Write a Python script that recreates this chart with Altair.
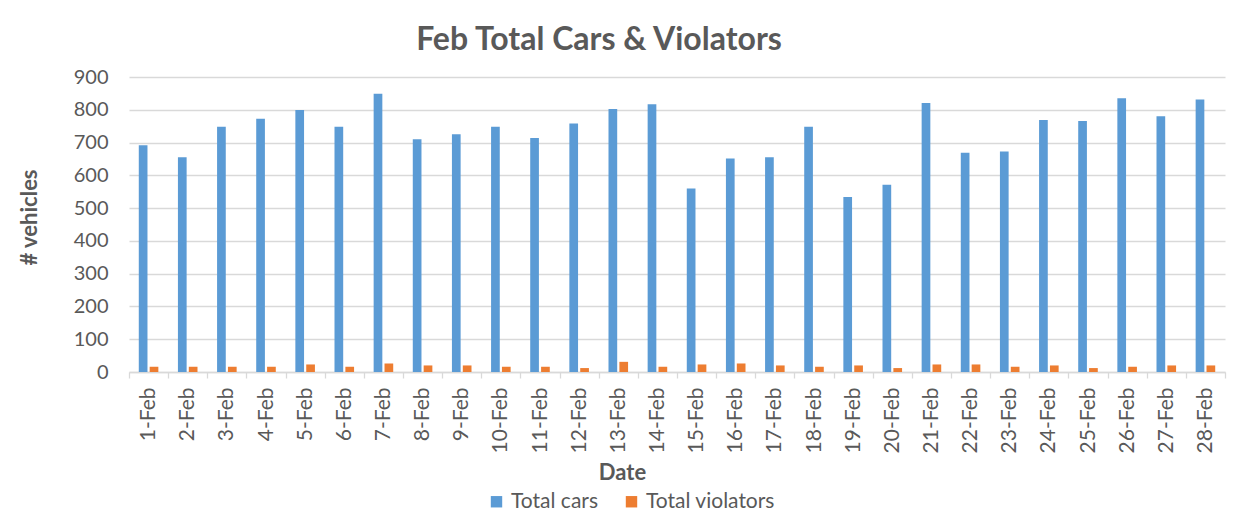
import altair as alt
import pandas as pd

dates = [f"{d}-Feb" for d in range(1, 29)]
total_cars = [692, 655, 748, 773, 799, 748, 849, 710, 725, 748, 714, 758, 802, 817,
              560, 651, 655, 748, 534, 571, 821, 669, 673, 769, 766, 835, 780, 831]
total_violators = [16, 16, 16, 16, 23, 16, 26, 20, 20, 16, 16, 12, 31, 16,
                   23, 26, 20, 16, 20, 12, 23, 23, 16, 20, 12, 16, 20, 20]
series = ["Total cars", "Total violators"]
colors = ["#5B9BD5", "#ED7D31"]

rows = []
for d, c, v in zip(dates, total_cars, total_violators):
    rows.append({"date": d, "series": series[0], "value": c})
    rows.append({"date": d, "series": series[1], "value": v})
df = pd.DataFrame(rows)

FONT = "Lato"
GREY = "#595959"
LINE = "#D9D9D9"

chart = alt.Chart(df).mark_bar().encode(
    x=alt.X("date:N", sort=dates,
            scale=alt.Scale(paddingInner=0, paddingOuter=0),
            axis=alt.Axis(title="Date", labelAngle=-90, tickBand="extent",
                          tickSize=6, tickColor=LINE, tickWidth=1.3,
                          domainColor=LINE, domainWidth=1.3,
                          labelPadding=9, labelFontSize=21, labelFont=FONT,
                          labelColor=GREY, labelOverlap=False,
                          titleX=493, titleY=100, titleBaseline="middle",
                          titleAlign="center",
                          titleFontSize=22, titleFontWeight="bold",
                          titleFont=FONT, titleColor=GREY, grid=False)),
    xOffset=alt.XOffset("series:N", sort=series,
                        scale=alt.Scale(paddingInner=0.2, paddingOuter=0.9)),
    y=alt.Y("value:Q",
            scale=alt.Scale(domain=[0, 900], nice=False),
            axis=alt.Axis(title="# vehicles", values=list(range(0, 1000, 100)),
                          grid=True, gridColor=LINE, gridWidth=1.3,
                          domain=False, ticks=False, labelPadding=21,
                          labelFontSize=20, labelFont=FONT, labelColor=GREY,
                          titleX=-100, titleY=140, titleAngle=-90,
                          titleBaseline="middle", titleAlign="center",
                          titleFontSize=22, titleFontWeight="bold",
                          titleFont=FONT, titleColor=GREY)),
    color=alt.Color("series:N", sort=series,
                    scale=alt.Scale(domain=series, range=colors),
                    legend=alt.Legend(orient="none", legendX=357, legendY=414,
                                      direction="horizontal", title=None,
                                      symbolType="square", symbolSize=130,
                                      symbolStrokeWidth=0,
                                      labelFontSize=21, labelFont=FONT,
                                      labelColor=GREY, columnPadding=23,
                                      labelOffset=4)),
).properties(
    width=1096,
    height=295,
    padding={"left": 121, "top": 69, "right": 9, "bottom": 144},
    autosize=alt.AutoSizeParams(type="none"),
    title=alt.TitleParams("Feb Total Cars & Violators", font=FONT, fontSize=32,
                          fontWeight="bold", color=GREY, anchor="middle",
                          dx=-78, dy=40, offset=25, baseline="alphabetic"),
).configure_view(stroke=None)

chart.save("out.html", embed_options={"renderer": "svg", "actions": False})
